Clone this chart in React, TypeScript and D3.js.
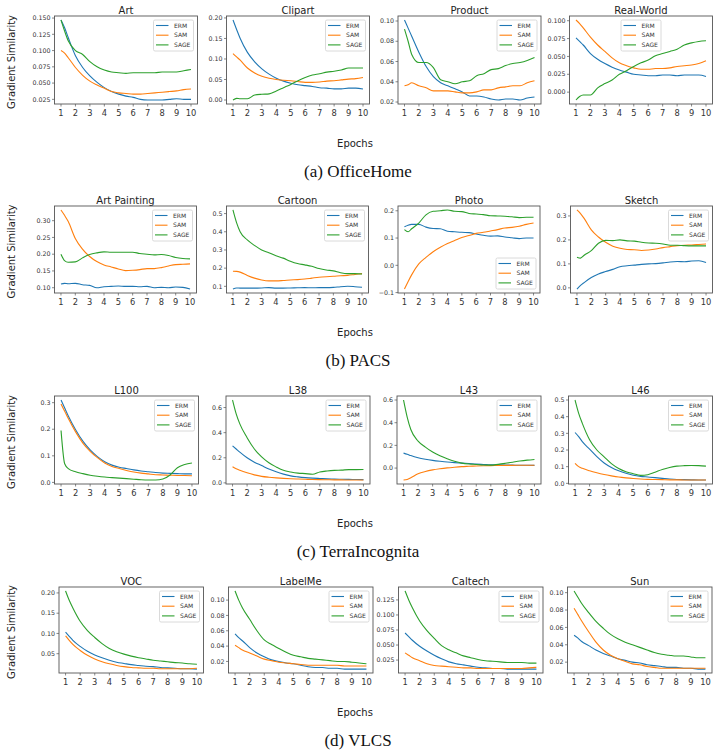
import React from "react";
import * as d3 from "d3";

// shared x positions (epochs) for every series
const epochs = [1, 1.25, 1.5, 2, 2.5, 3, 3.5, 4, 4.5, 5, 5.5, 6, 6.5, 7, 7.5, 8, 8.5, 9, 9.5, 10];
const xTicks = [1, 2, 3, 4, 5, 6, 7, 8, 9, 10];

const methods = ["ERM", "SAM", "SAGE"];
const methodColors = ["#1f77b4", "#ff7f0e", "#2ca02c"];

// OfficeHome
const artERM = [0.147, 0.135, 0.12, 0.092, 0.074, 0.061, 0.051, 0.043, 0.037, 0.033, 0.03, 0.028, 0.025, 0.024, 0.024, 0.024, 0.025, 0.026, 0.025, 0.025];
const artSAM = [0.1, 0.096, 0.089, 0.074, 0.062, 0.053, 0.047, 0.042, 0.037, 0.035, 0.034, 0.033, 0.033, 0.034, 0.035, 0.036, 0.037, 0.038, 0.04, 0.041];
const artSAGE = [0.147, 0.13, 0.115, 0.1, 0.094, 0.083, 0.075, 0.07, 0.067, 0.066, 0.065, 0.066, 0.066, 0.066, 0.066, 0.067, 0.067, 0.067, 0.069, 0.071];

const clipERM = [0.195, 0.172, 0.15, 0.116, 0.093, 0.076, 0.063, 0.053, 0.046, 0.041, 0.037, 0.035, 0.033, 0.03, 0.029, 0.027, 0.027, 0.029, 0.029, 0.027];
const clipSAM = [0.113, 0.105, 0.097, 0.078, 0.066, 0.058, 0.053, 0.05, 0.048, 0.047, 0.045, 0.043, 0.043, 0.044, 0.046, 0.047, 0.049, 0.051, 0.052, 0.055];
const clipSAGE = [0.0, 0.004, 0.003, 0.003, 0.012, 0.014, 0.015, 0.022, 0.03, 0.038, 0.047, 0.055, 0.061, 0.064, 0.068, 0.07, 0.073, 0.078, 0.078, 0.078];

const prodERM = [0.101, 0.093, 0.085, 0.069, 0.055, 0.045, 0.039, 0.036, 0.033, 0.03, 0.026, 0.026, 0.025, 0.023, 0.022, 0.023, 0.023, 0.022, 0.024, 0.025];
const prodSAM = [0.036, 0.037, 0.039, 0.036, 0.034, 0.031, 0.031, 0.031, 0.03, 0.029, 0.029, 0.03, 0.032, 0.032, 0.034, 0.035, 0.036, 0.036, 0.039, 0.041];
const prodSAGE = [0.092, 0.08, 0.067, 0.059, 0.059, 0.054, 0.042, 0.04, 0.038, 0.04, 0.041, 0.046, 0.048, 0.052, 0.053, 0.056, 0.058, 0.059, 0.061, 0.064];

const rwERM = [0.076, 0.071, 0.066, 0.054, 0.046, 0.04, 0.035, 0.031, 0.028, 0.025, 0.024, 0.023, 0.023, 0.024, 0.024, 0.023, 0.024, 0.024, 0.024, 0.022];
const rwSAM = [0.101, 0.096, 0.09, 0.077, 0.066, 0.057, 0.048, 0.041, 0.037, 0.034, 0.032, 0.032, 0.033, 0.033, 0.034, 0.036, 0.037, 0.038, 0.04, 0.044];
const rwSAGE = [-0.011, -0.006, -0.004, -0.004, 0.006, 0.012, 0.017, 0.025, 0.03, 0.036, 0.041, 0.045, 0.051, 0.054, 0.057, 0.06, 0.066, 0.069, 0.071, 0.072];

// PACS
const apERM = [0.111, 0.113, 0.112, 0.113, 0.109, 0.107, 0.1, 0.103, 0.104, 0.105, 0.104, 0.104, 0.103, 0.104, 0.1, 0.101, 0.1, 0.102, 0.101, 0.096];
const apSAM = [0.332, 0.316, 0.298, 0.247, 0.215, 0.193, 0.178, 0.168, 0.162, 0.156, 0.151, 0.152, 0.154, 0.157, 0.157, 0.16, 0.165, 0.169, 0.17, 0.171];
const apSAGE = [0.2, 0.181, 0.176, 0.177, 0.189, 0.199, 0.204, 0.207, 0.206, 0.206, 0.206, 0.206, 0.202, 0.2, 0.198, 0.199, 0.196, 0.19, 0.187, 0.186];

const ctERM = [0.085, 0.091, 0.09, 0.09, 0.09, 0.091, 0.093, 0.09, 0.09, 0.091, 0.092, 0.093, 0.092, 0.093, 0.093, 0.094, 0.098, 0.1, 0.098, 0.095];
const ctSAM = [0.183, 0.182, 0.178, 0.16, 0.145, 0.135, 0.13, 0.13, 0.132, 0.135, 0.137, 0.14, 0.145, 0.15, 0.153, 0.155, 0.158, 0.16, 0.165, 0.17];
const ctSAGE = [0.52, 0.45, 0.4, 0.355, 0.325, 0.3, 0.285, 0.268, 0.255, 0.238, 0.225, 0.218, 0.21, 0.198, 0.19, 0.185, 0.175, 0.17, 0.17, 0.168];

const phERM = [0.141, 0.147, 0.15, 0.15, 0.14, 0.135, 0.134, 0.125, 0.123, 0.121, 0.12, 0.115, 0.11, 0.107, 0.108, 0.104, 0.101, 0.098, 0.1, 0.1];
const phSAM = [-0.087, -0.06, -0.035, 0.005, 0.029, 0.05, 0.066, 0.08, 0.091, 0.102, 0.109, 0.117, 0.121, 0.126, 0.131, 0.137, 0.139, 0.143, 0.15, 0.155];
const phSAGE = [0.131, 0.123, 0.134, 0.155, 0.185, 0.198, 0.2, 0.203, 0.198, 0.197, 0.19, 0.188, 0.186, 0.182, 0.181, 0.18, 0.178, 0.175, 0.176, 0.176];

const skERM = [-0.005, 0.01, 0.022, 0.043, 0.058, 0.068, 0.077, 0.088, 0.092, 0.095, 0.098, 0.1, 0.101, 0.104, 0.108, 0.11, 0.109, 0.112, 0.113, 0.106];
const skSAM = [0.325, 0.31, 0.29, 0.242, 0.212, 0.19, 0.174, 0.165, 0.16, 0.159, 0.156, 0.158, 0.162, 0.168, 0.172, 0.176, 0.178, 0.179, 0.181, 0.183];
const skSAGE = [0.128, 0.124, 0.136, 0.155, 0.186, 0.198, 0.197, 0.2, 0.196, 0.195, 0.19, 0.187, 0.186, 0.183, 0.178, 0.178, 0.176, 0.175, 0.175, 0.175];

// TerraIncognita
const l100ERM = [0.31, 0.28, 0.25, 0.198, 0.155, 0.122, 0.097, 0.078, 0.065, 0.057, 0.052, 0.047, 0.043, 0.04, 0.037, 0.035, 0.034, 0.033, 0.032, 0.032];
const l100SAM = [0.295, 0.268, 0.24, 0.19, 0.148, 0.117, 0.093, 0.073, 0.06, 0.052, 0.045, 0.039, 0.035, 0.032, 0.029, 0.028, 0.027, 0.026, 0.026, 0.025];
const l100SAGE = [0.195, 0.07, 0.052, 0.04, 0.033, 0.027, 0.023, 0.02, 0.018, 0.016, 0.014, 0.012, 0.01, 0.009, 0.009, 0.013, 0.028, 0.055, 0.067, 0.073];

const l38ERM = [0.295, 0.27, 0.245, 0.2, 0.165, 0.138, 0.11, 0.088, 0.07, 0.056, 0.048, 0.042, 0.038, 0.035, 0.032, 0.03, 0.029, 0.028, 0.027, 0.026];
const l38SAM = [0.128, 0.112, 0.1, 0.08, 0.064, 0.052, 0.045, 0.04, 0.036, 0.033, 0.031, 0.029, 0.027, 0.026, 0.025, 0.024, 0.024, 0.023, 0.023, 0.023];
const l38SAGE = [0.66, 0.55, 0.47, 0.36, 0.27, 0.207, 0.16, 0.127, 0.1, 0.087, 0.078, 0.074, 0.069, 0.087, 0.095, 0.1, 0.102, 0.106, 0.106, 0.107];

const l43ERM = [0.132, 0.122, 0.11, 0.091, 0.078, 0.068, 0.06, 0.053, 0.048, 0.044, 0.04, 0.035, 0.032, 0.029, 0.028, 0.027, 0.026, 0.025, 0.025, 0.024];
const l43SAM = [-0.105, -0.1, -0.085, -0.05, -0.03, -0.016, -0.006, 0.002, 0.008, 0.013, 0.016, 0.019, 0.021, 0.022, 0.023, 0.024, 0.024, 0.025, 0.025, 0.025];
const l43SAGE = [0.6, 0.45, 0.34, 0.238, 0.185, 0.141, 0.108, 0.082, 0.06, 0.044, 0.036, 0.032, 0.027, 0.026, 0.033, 0.042, 0.052, 0.062, 0.07, 0.076];

const l46ERM = [0.305, 0.28, 0.25, 0.205, 0.16, 0.122, 0.095, 0.075, 0.06, 0.049, 0.042, 0.038, 0.034, 0.03, 0.026, 0.023, 0.022, 0.021, 0.02, 0.02];
const l46SAM = [0.12, 0.1, 0.09, 0.075, 0.063, 0.053, 0.045, 0.038, 0.033, 0.029, 0.026, 0.024, 0.023, 0.022, 0.021, 0.021, 0.02, 0.02, 0.02, 0.02];
const l46SAGE = [0.5, 0.42, 0.36, 0.262, 0.2, 0.159, 0.118, 0.089, 0.07, 0.058, 0.048, 0.052, 0.067, 0.083, 0.095, 0.103, 0.106, 0.107, 0.106, 0.103];

// VLCS
const vocERM = [0.103, 0.093, 0.083, 0.068, 0.056, 0.047, 0.04, 0.034, 0.029, 0.026, 0.023, 0.021, 0.019, 0.018, 0.016, 0.015, 0.014, 0.013, 0.013, 0.012];
const vocSAM = [0.094, 0.083, 0.073, 0.058, 0.046, 0.037, 0.03, 0.025, 0.021, 0.018, 0.016, 0.015, 0.014, 0.014, 0.013, 0.013, 0.013, 0.013, 0.013, 0.014];
const vocSAGE = [0.205, 0.182, 0.163, 0.13, 0.107, 0.09, 0.075, 0.063, 0.055, 0.049, 0.044, 0.04, 0.037, 0.034, 0.032, 0.03, 0.028, 0.027, 0.025, 0.024];

const lmERM = [0.056, 0.051, 0.047, 0.038, 0.031, 0.026, 0.022, 0.02, 0.018, 0.017, 0.015, 0.013, 0.012, 0.012, 0.011, 0.011, 0.01, 0.01, 0.01, 0.01];
const lmSAM = [0.041, 0.038, 0.035, 0.031, 0.027, 0.023, 0.021, 0.019, 0.018, 0.017, 0.016, 0.015, 0.015, 0.015, 0.015, 0.015, 0.014, 0.014, 0.014, 0.014];
const lmSAGE = [0.112, 0.1, 0.09, 0.075, 0.06, 0.048, 0.042, 0.037, 0.032, 0.028, 0.026, 0.024, 0.023, 0.022, 0.021, 0.02, 0.02, 0.019, 0.018, 0.017];

const calERM = [0.07, 0.064, 0.058, 0.048, 0.04, 0.033, 0.027, 0.022, 0.019, 0.017, 0.015, 0.013, 0.012, 0.011, 0.011, 0.01, 0.01, 0.01, 0.01, 0.01];
const calSAM = [0.037, 0.033, 0.029, 0.024, 0.019, 0.016, 0.015, 0.014, 0.013, 0.012, 0.012, 0.011, 0.011, 0.011, 0.011, 0.011, 0.011, 0.011, 0.012, 0.013];
const calSAGE = [0.14, 0.125, 0.112, 0.09, 0.074, 0.061, 0.049, 0.042, 0.037, 0.032, 0.029, 0.026, 0.024, 0.023, 0.022, 0.021, 0.021, 0.021, 0.02, 0.02];

const sunERM = [0.051, 0.048, 0.044, 0.039, 0.034, 0.03, 0.027, 0.024, 0.022, 0.02, 0.019, 0.017, 0.016, 0.015, 0.014, 0.014, 0.013, 0.013, 0.012, 0.012];
const sunSAM = [0.082, 0.075, 0.068, 0.055, 0.043, 0.034, 0.028, 0.024, 0.021, 0.018, 0.017, 0.015, 0.014, 0.013, 0.013, 0.013, 0.013, 0.013, 0.013, 0.013];
const sunSAGE = [0.102, 0.095, 0.088, 0.077, 0.067, 0.059, 0.052, 0.047, 0.043, 0.04, 0.037, 0.034, 0.031, 0.029, 0.028, 0.027, 0.027, 0.026, 0.025, 0.025];

type LegendPos = "ur" | "uc" | "lr";
interface Panel {
  title: string;
  series: number[][];
  ticks: number[];
  fmt: string;
  legend: LegendPos;
}
interface Row {
  caption: string;
  panels: Panel[];
  top: number;
  bottom: number;
  lefts: number[];
  width: number;
}

const rows: Row[] = [
  {
    caption: "(a) OfficeHome",
    top: 16,
    bottom: 104,
    lefts: [54.5, 226.5, 398, 569.5],
    width: 143,
    panels: [
      { title: "Art", series: [artERM, artSAM, artSAGE], ticks: [0.025, 0.05, 0.075, 0.1, 0.125, 0.15], fmt: ".3f", legend: "ur" },
      { title: "Clipart", series: [clipERM, clipSAM, clipSAGE], ticks: [0, 0.05, 0.1, 0.15, 0.2], fmt: ".2f", legend: "ur" },
      { title: "Product", series: [prodERM, prodSAM, prodSAGE], ticks: [0.02, 0.04, 0.06, 0.08, 0.1], fmt: ".2f", legend: "ur" },
      { title: "Real-World", series: [rwERM, rwSAM, rwSAGE], ticks: [0, 0.025, 0.05, 0.075, 0.1], fmt: ".3f", legend: "uc" },
    ],
  },
  {
    caption: "(b) PACS",
    top: 206,
    bottom: 293,
    lefts: [54.5, 226.5, 398, 570.5],
    width: 142,
    panels: [
      { title: "Art Painting", series: [apERM, apSAM, apSAGE], ticks: [0.1, 0.15, 0.2, 0.25, 0.3], fmt: ".2f", legend: "ur" },
      { title: "Cartoon", series: [ctERM, ctSAM, ctSAGE], ticks: [0.1, 0.2, 0.3, 0.4, 0.5], fmt: ".1f", legend: "ur" },
      { title: "Photo", series: [phERM, phSAM, phSAGE], ticks: [-0.1, 0, 0.1, 0.2], fmt: ".1f", legend: "lr" },
      { title: "Sketch", series: [skERM, skSAM, skSAGE], ticks: [0, 0.1, 0.2, 0.3], fmt: ".1f", legend: "ur" },
    ],
  },
  {
    caption: "(c) TerraIncognita",
    top: 396,
    bottom: 484,
    lefts: [54.5, 226, 397, 568.5],
    width: 144,
    panels: [
      { title: "L100", series: [l100ERM, l100SAM, l100SAGE], ticks: [0, 0.1, 0.2, 0.3], fmt: ".1f", legend: "ur" },
      { title: "L38", series: [l38ERM, l38SAM, l38SAGE], ticks: [0, 0.2, 0.4, 0.6], fmt: ".1f", legend: "ur" },
      { title: "L43", series: [l43ERM, l43SAM, l43SAGE], ticks: [0, 0.2, 0.4, 0.6], fmt: ".1f", legend: "ur" },
      { title: "L46", series: [l46ERM, l46SAM, l46SAGE], ticks: [0, 0.1, 0.2, 0.3, 0.4, 0.5], fmt: ".1f", legend: "ur" },
    ],
  },
  {
    caption: "(d) VLCS",
    top: 587,
    bottom: 673,
    lefts: [59, 228.5, 398.5, 567.5],
    width: 144.5,
    panels: [
      { title: "VOC", series: [vocERM, vocSAM, vocSAGE], ticks: [0.05, 0.1, 0.15, 0.2], fmt: ".2f", legend: "ur" },
      { title: "LabelMe", series: [lmERM, lmSAM, lmSAGE], ticks: [0.02, 0.04, 0.06, 0.08, 0.1], fmt: ".2f", legend: "ur" },
      { title: "Caltech", series: [calERM, calSAM, calSAGE], ticks: [0.025, 0.05, 0.075, 0.1, 0.125], fmt: ".3f", legend: "ur" },
      { title: "Sun", series: [sunERM, sunSAM, sunSAGE], ticks: [0.02, 0.04, 0.06, 0.08, 0.1], fmt: ".2f", legend: "ur" },
    ],
  },
];

const FONT = "DejaVu Sans";
const AXIS = "#555";
const TXT = "#333";

const Legend = ({ x, y }: { x: number; y: number }) => (
  <g transform={`translate(${x},${y})`}>
    <rect width={40} height={31} rx={1.5} fill="white" fillOpacity={0.85} stroke="#d0d0d0" strokeWidth={0.8} />
    {methods.map((m, i) => (
      <g key={m} transform={`translate(0,${5.5 + i * 9.7})`}>
        <line x1={2.5} x2={15} stroke={methodColors[i]} strokeWidth={1.1} />
        <text x={20.5} dy="0.35em" fontSize={6} fill={TXT} fontFamily={FONT}>
          {m}
        </text>
      </g>
    ))}
  </g>
);

const PanelChart = ({ panel, left, top, bottom, width }: { panel: Panel; left: number; top: number; bottom: number; width: number }) => {
  const x = d3.scaleLinear().domain([0.55, 10.45]).range([left, left + width]);
  const [lo, hi] = d3.extent(panel.series.flat()) as [number, number];
  const pad = (hi - lo) * 0.05;
  const y = d3.scaleLinear().domain([lo - pad, hi + pad]).range([bottom, top]);
  const line = d3
    .line<number>()
    .x((_, i) => x(epochs[i]))
    .y((d) => y(d))
    .curve(d3.curveMonotoneX);
  const fmt = d3.format(panel.fmt);

  const lw = 40;
  const lh = 31;
  let lx = left + width - 4 - lw;
  let ly = top + 4;
  if (panel.legend === "uc") lx = left + width / 2 - lw / 2;
  if (panel.legend === "lr") ly = bottom - 4 - lh;

  return (
    <g>
      <text x={left + width / 2} y={top - 2.5} textAnchor="middle" fontSize={10} fill="#222" fontFamily={FONT}>
        {panel.title}
      </text>
      {panel.series.map((s, i) => (
        <path key={i} d={line(s) || ""} fill="none" stroke={methodColors[i]} strokeWidth={1.1} strokeLinejoin="round" />
      ))}
      <rect x={left} y={top} width={width} height={bottom - top} fill="none" stroke={AXIS} strokeWidth={0.9} />
      {xTicks.map((t) => (
        <g key={t}>
          <line x1={x(t)} x2={x(t)} y1={bottom} y2={bottom + 2.5} stroke={AXIS} strokeWidth={0.7} />
          <text x={x(t)} y={bottom + 12} textAnchor="middle" fontSize={8.3} fill={TXT} fontFamily={FONT}>
            {t}
          </text>
        </g>
      ))}
      {panel.ticks.map((t) => (
        <g key={t}>
          <line x1={left - 2.5} x2={left} y1={y(t)} y2={y(t)} stroke={AXIS} strokeWidth={0.7} />
          <text x={left - 4} y={y(t)} dy="0.35em" textAnchor="end" fontSize={6.3} fill={TXT} fontFamily={FONT}>
            {fmt(t)}
          </text>
        </g>
      ))}
      <Legend x={lx} y={ly} />
    </g>
  );
};

const App = () => {
  return (
    <svg width={719} height={756} style={{ position: "absolute", left: 0, top: 0, background: "white" }}>
      <rect width={719} height={756} fill="white" />
      {rows.map((row) => {
        const mid = (row.top + row.bottom) / 2;
        return (
          <g key={row.caption}>
            <text
              transform={`translate(14.5,${mid + 2}) rotate(-90)`}
              textAnchor="middle"
              fontSize={10}
              fill="#222"
              fontFamily={FONT}
            >
              Gradient Similarity
            </text>
            {row.panels.map((p, i) => (
              <PanelChart key={p.title} panel={p} left={row.lefts[i]} top={row.top} bottom={row.bottom} width={row.width} />
            ))}
            <text x={355} y={row.bottom + 42.5} textAnchor="middle" fontSize={10} fill="#222" fontFamily={FONT}>
              Epochs
            </text>
            <text x={358} y={row.bottom + 73} textAnchor="middle" fontSize={17} fill="#111" fontFamily="Liberation Serif">
              {row.caption}
            </text>
          </g>
        );
      })}
    </svg>
  );
};

export default App;
